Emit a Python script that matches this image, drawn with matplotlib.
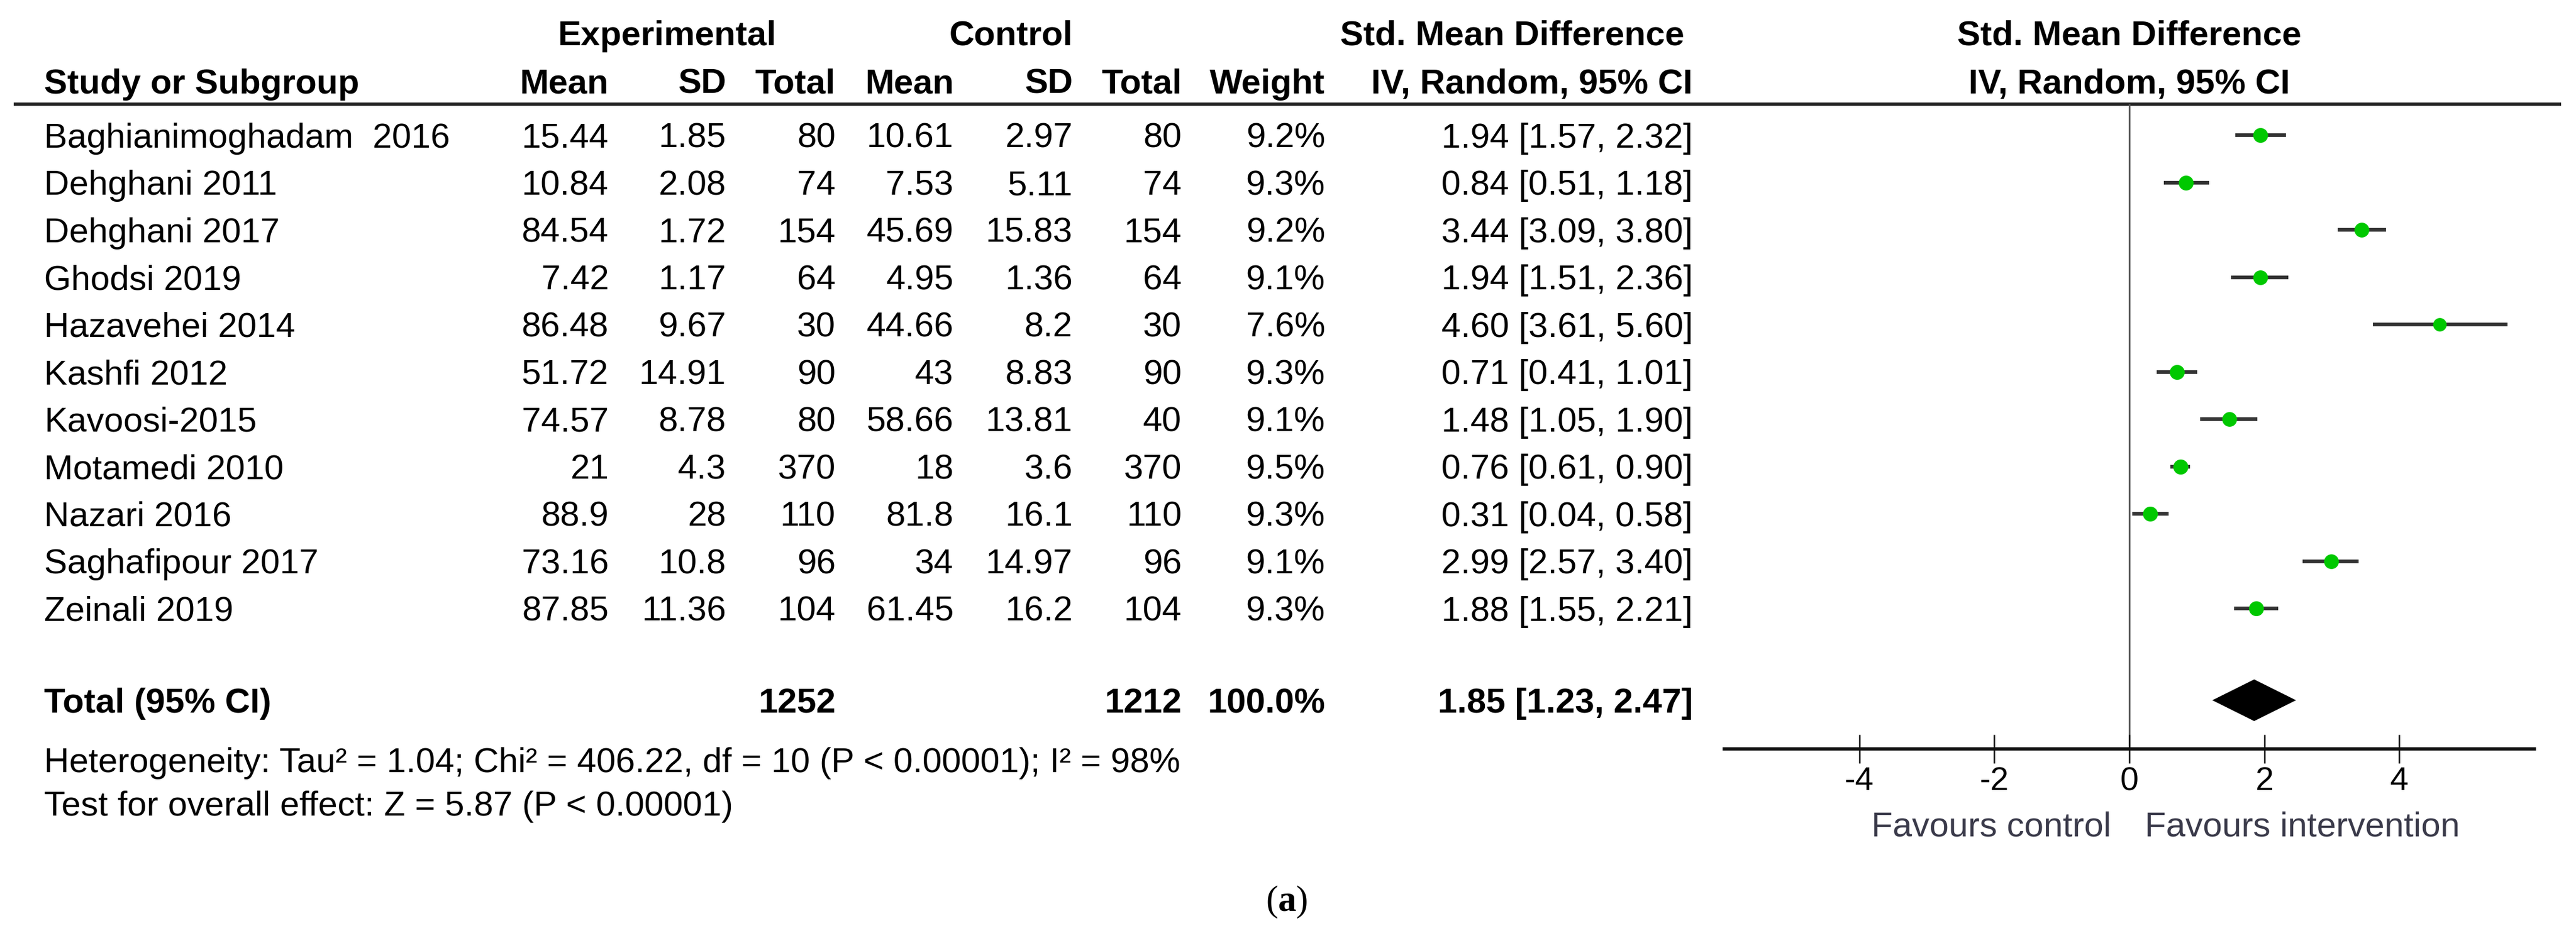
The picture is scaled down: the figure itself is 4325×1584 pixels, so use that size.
import matplotlib
matplotlib.use("Agg")
import matplotlib.pyplot as plt
from matplotlib.transforms import blended_transform_factory

plt.rcParams['font.family'] = ['Liberation Sans', 'DejaVu Sans']
plt.rcParams['axes.unicode_minus'] = False
plt.rcParams['mathtext.fontset'] = 'custom'
plt.rcParams['mathtext.rm'] = 'Liberation Serif'
plt.rcParams['mathtext.bf'] = 'Liberation Serif:bold'

# ---------------- data ----------------
studies = ["Baghianimoghadam  2016", "Dehghani 2011", "Dehghani 2017", "Ghodsi 2019",
           "Hazavehei 2014", "Kashfi 2012", "Kavoosi-2015", "Motamedi 2010",
           "Nazari 2016", "Saghafipour 2017", "Zeinali 2019"]
exp_mean = [15.44, 10.84, 84.54, 7.42, 86.48, 51.72, 74.57, 21, 88.9, 73.16, 87.85]
exp_sd = [1.85, 2.08, 1.72, 1.17, 9.67, 14.91, 8.78, 4.3, 28, 10.8, 11.36]
exp_n = [80, 74, 154, 64, 30, 90, 80, 370, 110, 96, 104]
ctl_mean = [10.61, 7.53, 45.69, 4.95, 44.66, 43, 58.66, 18, 81.8, 34, 61.45]
ctl_sd = [2.97, 5.11, 15.83, 1.36, 8.2, 8.83, 13.81, 3.6, 16.1, 14.97, 16.2]
ctl_n = [80, 74, 154, 64, 30, 90, 40, 370, 110, 96, 104]
weights = [9.2, 9.3, 9.2, 9.1, 7.6, 9.3, 9.1, 9.5, 9.3, 9.1, 9.3]
smd = [1.94, 0.84, 3.44, 1.94, 4.60, 0.71, 1.48, 0.76, 0.31, 2.99, 1.88]
ci_low = [1.57, 0.51, 3.09, 1.51, 3.61, 0.41, 1.05, 0.61, 0.04, 2.57, 1.55]
ci_high = [2.32, 1.18, 3.80, 2.36, 5.60, 1.01, 1.90, 0.90, 0.58, 3.40, 2.21]
total_exp_n = 1252
total_ctl_n = 1212
total_weight = 100.0
pooled = [1.23, 1.85, 2.47]
xticks = [-4, -2, 0, 2, 4]
heterogeneity = "Heterogeneity: Tau² = 1.04; Chi² = 406.22, df = 10 (P < 0.00001); I² = 98%"
overall = "Test for overall effect: Z = 5.87 (P < 0.00001)"

# ---------------- layout ----------------
W, H = 4325, 1584
fig = plt.figure(figsize=(W / 100, H / 100), dpi=100)
tab = fig.add_axes([0, 0, 1, 1])
tab.set_xlim(0, W)
tab.set_ylim(H, 0)
tab.axis('off')

FS = 42
ROW0, ROWH = 227, 79.5
HALF_CAP = 0.716 * FS * 100 / 72 / 2


def row_y(r):
    return ROW0 + ROWH * r


def put(x, yc, s, ha='left', bold=False, fs=FS, color='black'):
    tab.text(x, yc + HALF_CAP * fs / FS, s, ha=ha, va='baseline', fontsize=fs,
             fontweight='bold' if bold else 'normal', color=color)


def g(v):
    return f"{v:g}"


X_NAME = 74
X_EM, X_ESD, X_EN = 1022, 1219, 1403
X_CM, X_CSD, X_CN = 1601, 1801, 1984
X_W, X_CI = 2225, 2842
X_ZERO = 3575

# headers
put(1120, 55, "Experimental", ha='center', bold=True)
put(1697, 55, "Control", ha='center', bold=True)
put(2539, 55, "Std. Mean Difference", ha='center', bold=True)
put(X_ZERO, 55, "Std. Mean Difference", ha='center', bold=True)
hy = 136
put(X_NAME, hy, "Study or Subgroup", bold=True)
for x, s in [(X_EM, "Mean"), (X_ESD, "SD"), (X_EN, "Total"), (X_CM, "Mean"),
             (X_CSD, "SD"), (X_CN, "Total"), (X_W, "Weight"), (X_CI, "IV, Random, 95% CI")]:
    put(x, hy, s, ha='right', bold=True)
put(X_ZERO, hy, "IV, Random, 95% CI", ha='center', bold=True)
tab.plot([23, 4300], [175, 175], color='#222222', lw=4, solid_capstyle='butt')

# rows
for i, name in enumerate(studies):
    y = row_y(i)
    put(X_NAME, y, name)
    put(X_EM, y, g(exp_mean[i]), ha='right')
    put(X_ESD, y, g(exp_sd[i]), ha='right')
    put(X_EN, y, str(exp_n[i]), ha='right')
    put(X_CM, y, g(ctl_mean[i]), ha='right')
    put(X_CSD, y, g(ctl_sd[i]), ha='right')
    put(X_CN, y, str(ctl_n[i]), ha='right')
    put(X_W, y, f"{weights[i]:.1f}%", ha='right')
    put(X_CI, y, f"{smd[i]:.2f} [{ci_low[i]:.2f}, {ci_high[i]:.2f}]", ha='right')

TOT = len(studies) + 0.94
yt = row_y(TOT)
put(X_NAME, yt, "Total (95% CI)", bold=True)
put(X_EN, yt, str(total_exp_n), ha='right', bold=True)
put(X_CN, yt, str(total_ctl_n), ha='right', bold=True)
put(X_W, yt, f"{total_weight:.1f}%", ha='right', bold=True)
put(X_CI, yt, f"{pooled[1]:.2f} [{pooled[0]:.2f}, {pooled[2]:.2f}]", ha='right', bold=True)

put(X_NAME, 1276, heterogeneity, fs=42)
put(X_NAME, 1349, overall, fs=42)

tab.text(2160, 1515, r"($\mathbf{a}$)", ha='center', va='center', fontsize=44,
         family='Liberation Serif')

# ---------------- forest plot ----------------
AX_L, AX_R = 2895, 4255
AX_TOP, AX_BOT = 175, 1258
ax = fig.add_axes([AX_L / W, 1 - AX_BOT / H, (AX_R - AX_L) / W, (AX_BOT - AX_TOP) / H])
ax.set_xlim(-6, 6)
ax.set_ylim((AX_BOT - ROW0) / ROWH, (AX_TOP - ROW0) / ROWH)
ax.patch.set_alpha(0)
for s in ['top', 'right', 'left']:
    ax.spines[s].set_visible(False)
ax.spines['bottom'].set_linewidth(4)
ax.spines['bottom'].set_color('#111111')
ax.set_yticks([])
ax.set_xticks(xticks)
ax.set_xticklabels([str(t) for t in xticks])
ax.tick_params(axis='x', direction='inout', length=34, width=1.8, labelsize=40, pad=4,
               color='#111111')
ax.axvline(0, color='#555555', lw=2, zorder=1)

rows = list(range(len(studies)))
for i in rows:
    ax.plot([ci_low[i], ci_high[i]], [i, i], color='#333333', lw=4.5,
            solid_capstyle='butt', zorder=2)
    ax.plot(smd[i], i, marker='o', color='#00c800', markersize=18 * (weights[i] / 9.3) ** 0.5,
            markeredgewidth=0, zorder=3)

dh = 0.44
ax.fill([pooled[0], pooled[1], pooled[2], pooled[1]], [TOT, TOT - dh, TOT, TOT + dh],
        color='black', zorder=3, lw=0)

tr = blended_transform_factory(ax.transData, tab.transData)
ax.text(-0.27, 1384 + HALF_CAP, "Favours control", transform=tr, ha='right', va='baseline',
        fontsize=FS, color='#3a3a4a')
ax.text(0.23, 1384 + HALF_CAP, "Favours intervention", transform=tr, ha='left', va='baseline',
        fontsize=FS, color='#3a3a4a')

fig.savefig("out.png", dpi=100, facecolor='white')
